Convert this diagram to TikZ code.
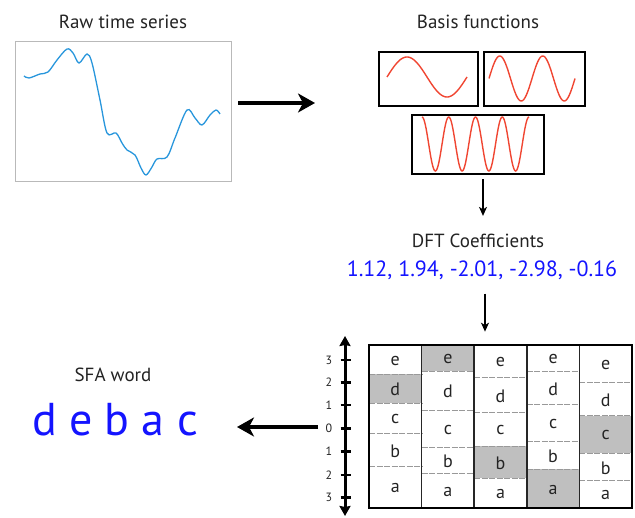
\documentclass[tikz,border=0pt]{standalone}
\usepackage{fontspec}
\setmainfont{PT Sans}
\usetikzlibrary{arrows.meta}
\definecolor{tsblue}{RGB}{40,150,220}
\definecolor{wavered}{RGB}{240,70,50}
\definecolor{coefblue}{RGB}{20,20,255}
\definecolor{txtgray}{RGB}{35,35,35}
\begin{document}
\begin{tikzpicture}[x=1pt,y=-1pt,
  title/.style={font=\fontsize{19}{21}\selectfont, text=txtgray, inner sep=0},
  bigarrow/.style={line width=3.5pt, -{Stealth[length=17pt,width=19pt,inset=5pt]}},
  thinarrow/.style={line width=1.5pt, -{Stealth[length=9pt,width=8pt,inset=2.5pt]}},
  basisbox/.style={draw, line width=2.5pt, inner sep=0},
  wave/.style={wavered, line width=1.4pt},
  cellletter/.style={font=\fontsize{18}{20}\selectfont, text=txtgray, inner sep=0},
  axislabel/.style={font=\fontsize{12}{14}\selectfont, text=txtgray, inner sep=0},
  celldash/.style={gray!80, line width=0.8pt, dash pattern=on 6pt off 1.5pt},
  shade/.style={fill=gray!50}
]
\useasboundingbox (0,0) rectangle (635,518);

% Raw time series
\node[title] (rawtitle) at (123,22) {Raw time series};
\node[draw=gray!55, line width=1pt, minimum width=216pt, minimum height=140pt, inner sep=0] (raw) at (123,112) {};
\draw[tsblue, line width=1.3pt] plot[smooth, tension=0.55] coordinates {
 (24,76) (29,78) (40,74) (48,72) (57,60) (67,49) (73,53) (79,63) (87,54) (92,63)
 (100,100) (107,133) (116,133) (122,143) (127,150) (135,155) (141,168) (146,175)
 (152,167) (157,159) (167,157) (175,138) (187,110) (195,118) (202,125) (210,115) (216,110) (220,114)};

\coordinate (rawarrowstart) at (238,103);
\coordinate (rawarrowend) at (315,103);
\draw[bigarrow] (rawarrowstart) -- (rawarrowend);

% Basis functions
\node[title] (basistitle) at (478,22) {Basis functions};
\node[basisbox, minimum width=99pt, minimum height=54pt] (b1) at (428.5,79) {};
\node[basisbox, minimum width=101pt, minimum height=54pt] (b2) at (534.5,79) {};
\node[basisbox, minimum width=132pt, minimum height=59pt] (b3) at (478,144.5) {};
\draw[wave] plot[domain=0:80, samples=80, variable=\t] ({387+\t},{77-20*sin(4.5*\t)});
\draw[wave] plot[domain=0:86, samples=100, variable=\t] ({489+\t},{78.5-22.5*sin(8.372*\t)});
\draw[wave] plot[domain=0:107, samples=160, variable=\t] ({422+\t},{144-27*cos(13.458*\t)});

% DFT
\node[title] (dft) at (478,241) {DFT Coefficients};
\node[font=\fontsize{22}{25}\selectfont, text=coefblue, inner sep=0] (coef) at (482,270) {1.12, 1.94, -2.01, -2.98, -0.16};
\draw[thinarrow] ([shift={(5,4)}]b3.south) -- ([shift={(5,-18)}]dft.north);
\draw[thinarrow] ([shift={(3,14)}]coef.south) -- ([shift={(3,52)}]coef.south);

% Grid
\foreach \i/\ba/\bb/\bc/\bd/\st/\sb in {
  0/374.3/403.3/433.3/466.7/374.3/403.3,
  1/371/410/447.3/473.3/345/371,
  2/377.7/412.7/446/478.3/446/478.3,
  3/371.7/404/441.7/469.3/469.3/508,
  4/382.7/415.7/453.3/480.7/415.7/453.3}{
  \pgfmathsetmacro\xl{369+\i*52.6}
  \pgfmathsetmacro\xr{\xl+52.6}
  \pgfmathsetmacro\xm{\xl+26.3}
  \fill[shade] (\xl,\st) rectangle (\xr,\sb);
  \foreach \yy in {\ba,\bb,\bc,\bd}{
    \draw[celldash] (\xl,\yy) -- (\xr,\yy);
  }
  \pgfmathsetmacro\ye{(345+\ba)/2+1}
  \pgfmathsetmacro\yd{(\ba+\bb)/2+1}
  \pgfmathsetmacro\yc{(\bb+\bc)/2+1}
  \pgfmathsetmacro\yb{(\bc+\bd)/2+1}
  \pgfmathsetmacro\ya{(\bd+508)/2+1}
  \node[cellletter] at (\xm,\ye) {e};
  \node[cellletter] at (\xm,\yd) {d};
  \node[cellletter] at (\xm,\yc) {c};
  \node[cellletter] at (\xm,\yb) {b};
  \node[cellletter] at (\xm,\ya) {a};
}
\foreach \i in {1,2,3,4}{
  \draw[black!85, line width=1.6pt] ({369+\i*52.6},345) -- ({369+\i*52.6},508);
}
\node[draw, line width=2.5pt, minimum width=263pt, minimum height=163pt, inner sep=0] (grid) at (500.5,426.5) {};

% Axis
\coordinate (axtop) at (345,336);
\coordinate (axbot) at (345,516);
\draw[line width=3pt, {Stealth[length=10pt,width=11pt,inset=1pt]}-{Stealth[length=10pt,width=11pt,inset=1pt]}] (axtop) -- (axbot);
\foreach \yy/\lab in {360/3, 382.7/2, 405/1, 428.3/0, 451.7/1, 475/2, 497.7/3}{
  \draw[line width=2.5pt] (340.5,\yy) -- (351,\yy);
  \node[axislabel] at (329,\yy) {\lab};
}

% SFA word
\node[title] (sfatitle) at (113,375) {SFA word};
\node[font=\fontsize{46}{50}\selectfont, text=coefblue, inner sep=0] (word) at (115,420) {d e b a c};
\coordinate (sfaarrowstart) at (318,427);
\coordinate (sfaarrowend) at (237,427);
\draw[bigarrow] (sfaarrowstart) -- (sfaarrowend);
\end{tikzpicture}
\end{document}
